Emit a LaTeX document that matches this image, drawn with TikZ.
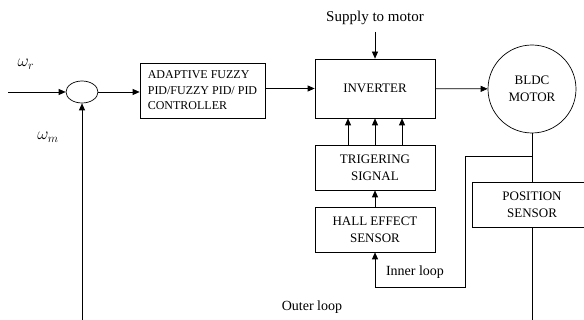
\documentclass[tikz,border=0pt]{standalone}
\usepackage{fontspec}
\setmainfont{Liberation Serif}
\usetikzlibrary{shapes,arrows.meta,positioning}

\begin{document}
\begin{tikzpicture}[x=1pt,y=-1pt,line width=0.7pt,
        blk/.style={draw, minimum width=120pt, minimum height=45pt, inner sep=0pt,
            align=center, font=\fontsize{13}{17}\selectfont},
        arr/.style={-{Triangle[length=7pt,width=6pt]}},
        lbl/.style={font=\fontsize{14}{16}\selectfont}]
        \useasboundingbox (0,0) rectangle (584,320);

        % blocks
        \node[ellipse, draw, minimum width=32pt, minimum height=22pt, inner sep=0pt] (sum) at (82,92) {};
        \node[blk, minimum width=125pt, minimum height=55pt, align=left,
            font=\fontsize{12}{15.5}\selectfont] (ctrl) at (202.5,90.5) {ADAPTIVE FUZZY\\PID/FUZZY PID/ PID\\CONTROLLER};
        \node[blk, minimum height=59pt] (inv) at (375,88.5) {INVERTER};
        \node[blk] (trig) at (375,167.5) {TRIGERING\\SIGNAL};
        \node[blk] (hall) at (375,229.5) {HALL EFFECT\\SENSOR};
        \node[circle, draw, minimum size=88pt, inner sep=0pt, align=center,
            font=\fontsize{13}{17}\selectfont] (motor) at (532,89) {BLDC\\MOTOR};
        \node[blk] (pos) at (532,204.5) {POSITION\\SENSOR};

        % labels
        \node[font=\fontsize{15}{17}\selectfont] (supply) at (375,18) {Supply to motor};
        \node[font=\fontsize{17}{19}\selectfont] (wr) at (26,64) {$\omega_r$};
        \node[font=\fontsize{17}{19}\selectfont] (wm) at (48,137) {$\omega_m$};
        \node[lbl] (inner) at (415,272) {Inner loop};
        \node[lbl] (outer) at (312,307) {Outer loop};

        % free ends
        \coordinate (in) at (8,92);
        \coordinate (sup) at (375,32);
        \coordinate (tap) at (532,156);
        \coordinate (fbl) at (465,156);
        \coordinate (fbd) at (465,287);
        \coordinate (fbh) at (375,287);
        \coordinate (obot) at (82,322);
        \coordinate (pbot) at (532,322);

        % connectors
        \draw[arr] (in) -- (sum);
        \draw[arr] (sum) -- (sum -| ctrl.west);
        \draw[arr] (ctrl.east |- inv) -- (inv.west);
        \draw[arr] (sup) -- (inv.north);
        \draw[arr] (inv) -- (motor);
        \foreach \dx in {-27,0,27}
            \draw[arr] ([xshift=\dx pt]trig.north) -- ([xshift=\dx pt]inv.south);
        \draw[arr] (hall) -- (trig);
        \draw (motor.south) -- (pos.north);
        \draw (tap) -- (fbl) -- (fbd) -- (fbh);
        \draw[arr] (fbh) -- (hall.south);
        \draw (pos.south) -- (pbot);
        \draw[arr] (obot) -- (sum.south);
\end{tikzpicture}
\end{document}
